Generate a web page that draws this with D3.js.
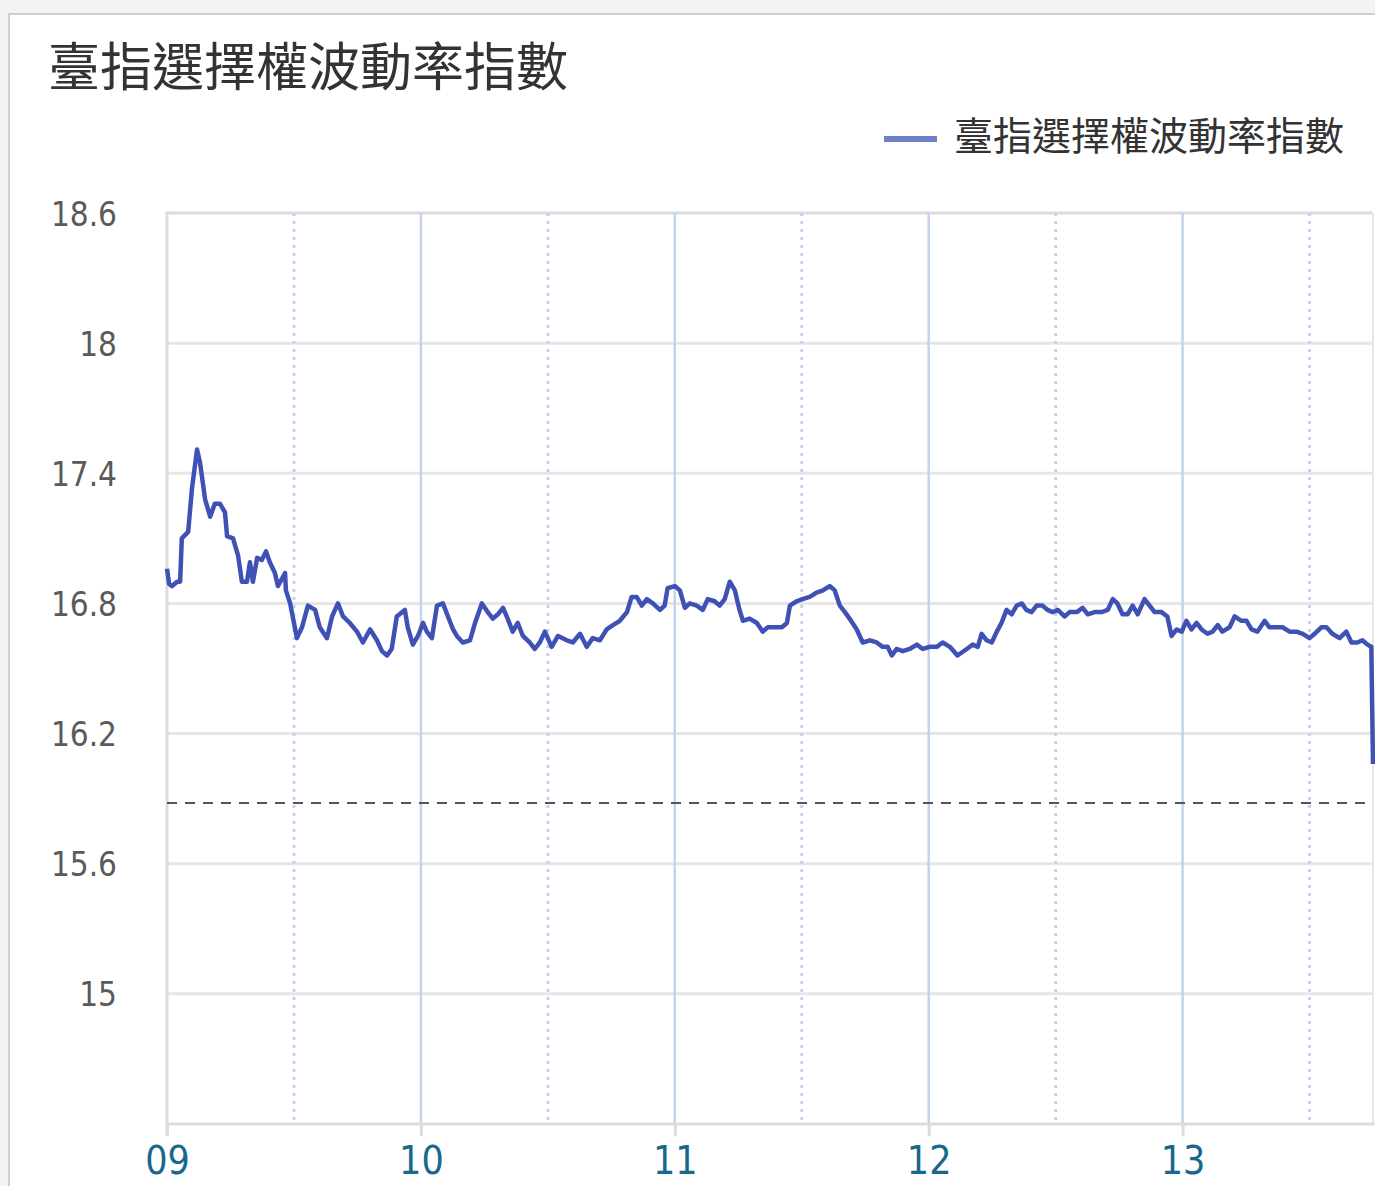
<!DOCTYPE html>
<html>
<head>
<meta charset="utf-8">
<script src="https://cdn.jsdelivr.net/npm/d3@7"></script>
<style>
  html, body { margin: 0; padding: 0; background: #f3f3f3; }
  svg { display: block; }
</style>
</head>
<body>
<script>
// 臺指選擇權波動率指數 - intraday, minutes after 09:00
var titleText = "臺指選擇權波動率指數";
var seriesName = "臺指選擇權波動率指數";

var minutes = [0, 0.5, 1.2, 2.4, 3.1, 3.5, 5.0, 5.9, 7.1, 7.8, 9.0, 10.2, 11.3, 12.5, 13.7, 14.2, 15.6, 16.8, 17.7, 18.9,
  19.6, 20.3, 21.3, 22.4, 23.4, 24.3, 25.5, 26.2, 27.9, 28.1, 29.1, 30.2, 30.7, 31.9, 33.3, 35.0, 36.1, 37.8, 39.0, 40.4,
  41.6, 43.2, 44.9, 46.3, 48.0, 49.6, 50.8, 52.0, 53.1, 54.3, 56.2, 56.9, 58.1, 59.3, 60.5, 61.4, 62.6, 63.8, 65.2, 66.4,
  67.6, 68.5, 69.9, 71.6, 72.8, 74.4, 75.8, 77.0, 78.2, 79.4, 80.5, 81.7, 82.9, 84.1, 85.7, 86.9, 88.1, 89.3, 90.9, 92.4,
  94.5, 95.9, 97.6, 99.2, 100.6, 102.3, 103.9, 105.4, 107.0, 108.7, 109.8, 111.0, 112.2, 113.4, 114.8, 116.5, 117.6, 118.3, 120.0, 121.2,
  122.4, 123.5, 125.2, 126.6, 127.8, 129.4, 130.6, 131.8, 133.0, 134.2, 135.3, 136.1, 137.7, 139.4, 140.8, 142.0, 143.6, 145.3, 146.5, 147.2,
  148.8, 150.2, 151.9, 153.5, 155.0, 156.6, 157.8, 159.0, 160.2, 161.3, 163.0, 164.4, 166.1, 167.7, 169.1, 170.3, 171.3, 172.4, 173.9, 175.5,
  177.2, 178.6, 180.2, 181.9, 183.3, 185.0, 186.8, 189.0, 190.4, 191.6, 192.5, 193.7, 194.9, 196.1, 197.2, 198.4, 199.6, 200.8, 202.0, 203.1,
  204.3, 205.5, 206.9, 208.1, 209.3, 210.5, 212.1, 213.3, 215.0, 216.4, 217.6, 219.2, 220.9, 222.3, 223.5, 224.6, 225.8, 227.0, 228.2, 229.4,
  231.0, 232.2, 233.4, 235.0, 236.4, 237.4, 238.6, 239.8, 240.9, 242.1, 243.3, 244.5, 245.9, 247.1, 248.3, 249.4, 251.1, 252.3, 253.9, 255.1,
  256.3, 257.7, 259.4, 260.5, 262.2, 263.6, 265.3, 266.9, 268.4, 270.0, 271.2, 272.8, 274.0, 275.4, 277.1, 278.7, 279.9, 281.3, 282.5, 283.7,
  284.6, 285.0];

var values = [16.96, 16.89, 16.88, 16.90, 16.90, 17.10, 17.13, 17.33, 17.51, 17.45, 17.28, 17.20, 17.26, 17.26, 17.22, 17.11, 17.10, 17.02, 16.90, 16.90,
  16.99, 16.90, 17.01, 17.00, 17.04, 16.99, 16.94, 16.88, 16.94, 16.86, 16.80, 16.69, 16.64, 16.69, 16.79, 16.77, 16.69, 16.64, 16.74, 16.80,
  16.74, 16.71, 16.67, 16.62, 16.68, 16.63, 16.58, 16.56, 16.59, 16.74, 16.77, 16.69, 16.61, 16.65, 16.71, 16.67, 16.64, 16.79, 16.80, 16.74,
  16.68, 16.65, 16.62, 16.63, 16.71, 16.80, 16.76, 16.73, 16.75, 16.78, 16.73, 16.67, 16.71, 16.65, 16.62, 16.59, 16.62, 16.67, 16.60, 16.65,
  16.63, 16.62, 16.66, 16.60, 16.64, 16.63, 16.68, 16.70, 16.72, 16.76, 16.83, 16.83, 16.79, 16.82, 16.80, 16.77, 16.79, 16.87, 16.88, 16.86,
  16.78, 16.80, 16.79, 16.77, 16.82, 16.81, 16.79, 16.82, 16.90, 16.86, 16.77, 16.72, 16.73, 16.71, 16.67, 16.69, 16.69, 16.69, 16.71, 16.79,
  16.81, 16.82, 16.83, 16.85, 16.86, 16.88, 16.86, 16.79, 16.76, 16.73, 16.68, 16.62, 16.63, 16.62, 16.60, 16.60, 16.56, 16.59, 16.58, 16.59,
  16.61, 16.59, 16.60, 16.60, 16.62, 16.60, 16.56, 16.59, 16.61, 16.60, 16.66, 16.63, 16.62, 16.67, 16.71, 16.77, 16.75, 16.79, 16.80, 16.77,
  16.76, 16.79, 16.79, 16.77, 16.76, 16.77, 16.74, 16.76, 16.76, 16.78, 16.75, 16.76, 16.76, 16.77, 16.82, 16.80, 16.75, 16.75, 16.79, 16.75,
  16.82, 16.79, 16.76, 16.76, 16.74, 16.65, 16.68, 16.67, 16.72, 16.68, 16.71, 16.68, 16.66, 16.67, 16.70, 16.67, 16.69, 16.74, 16.72, 16.72,
  16.68, 16.67, 16.72, 16.69, 16.69, 16.69, 16.67, 16.67, 16.66, 16.64, 16.66, 16.69, 16.69, 16.66, 16.64, 16.67, 16.62, 16.62, 16.63, 16.61,
  16.60, 16.06];

var yTicks = [15, 15.6, 16.2, 16.8, 17.4, 18, 18.6];
var yDomain = [14.4, 18.6];
var hourLabels = ["09", "10", "11", "12", "13"];
var refLine = 15.88; // dashed reference (prior close)

var width = 1375, height = 1186;
var plot = {left: 167, top: 213, right: 1373, bottom: 1124};

var day = new Date(2020, 0, 2, 9, 0);
var start = day, end = d3.timeMinute.offset(day, 285);

var data = minutes.map(function(m, i) {
  return {t: new Date(day.getTime() + m * 60000), v: values[i]};
});

var x = d3.scaleTime().domain([start, end]).range([plot.left, plot.right]);
var y = d3.scaleLinear().domain(yDomain).range([plot.bottom, plot.top]);

var svg = d3.select("body").append("svg")
    .attr("width", width)
    .attr("height", height);

// panel
svg.append("rect")
    .attr("x", 9).attr("y", 14)
    .attr("width", width + 10).attr("height", height + 10)
    .style("fill", "#fff")
    .style("stroke", "#cfcfcf")
    .style("stroke-width", 2);

svg.append("text")
    .attr("x", 48).attr("y", 86)
    .style("font-family", "'Noto Sans CJK TC', 'Noto Sans CJK SC', sans-serif")
    .style("font-size", "52px")
    .style("fill", "#333")
    .text(titleText);

// legend
svg.append("line")
    .attr("x1", 884).attr("x2", 937)
    .attr("y1", 139).attr("y2", 139)
    .style("stroke", "#6f80c8")
    .style("stroke-width", 6);
svg.append("text")
    .attr("x", 954).attr("y", 150)
    .style("font-family", "'Noto Sans CJK TC', 'Noto Sans CJK SC', sans-serif")
    .style("font-size", "39px")
    .style("fill", "#333")
    .text(seriesName);

// horizontal grid
svg.append("g").selectAll("line")
    .data(yTicks)
    .enter().append("line")
    .attr("x1", plot.left).attr("x2", plot.right)
    .attr("y1", function(d) { return y(d); })
    .attr("y2", function(d) { return y(d); })
    .style("stroke", function(d) { return d === 18.6 ? "#dcdcdc" : "#e6e6e6"; })
    .style("stroke-width", 3);

// vertical grid: hours solid, half hours dotted
var hours = d3.range(1, 5).map(function(h) { return d3.timeHour.offset(day, h); });
var halves = d3.range(0, 5).map(function(h) { return d3.timeMinute.offset(day, h * 60 + 30); });

svg.append("g").selectAll("line")
    .data(hours)
    .enter().append("line")
    .attr("x1", function(d) { return x(d); })
    .attr("x2", function(d) { return x(d); })
    .attr("y1", plot.top).attr("y2", plot.bottom)
    .style("stroke", "#c3d3ef")
    .style("stroke-width", 2.5);

svg.append("g").selectAll("line")
    .data(halves)
    .enter().append("line")
    .attr("x1", function(d) { return x(d); })
    .attr("x2", function(d) { return x(d); })
    .attr("y1", plot.top).attr("y2", plot.bottom)
    .style("stroke", "#c3d3ef")
    .style("stroke-width", 3)
    .style("stroke-dasharray", "3,5");

// frame
svg.append("line")
    .attr("x1", plot.left).attr("x2", plot.left)
    .attr("y1", plot.top - 1.5).attr("y2", plot.bottom + 12)
    .style("stroke", "#dcdcdc").style("stroke-width", 3);
svg.append("line")
    .attr("x1", plot.right).attr("x2", plot.right)
    .attr("y1", plot.top).attr("y2", plot.bottom)
    .style("stroke", "#e6e6e6").style("stroke-width", 2);

// x axis
var xAxis = d3.axisBottom(x)
    .tickValues([start].concat(hours))
    .tickSize(12)
    .tickFormat(function(d, i) { return hourLabels[i]; });

var gx = svg.append("g")
    .attr("transform", "translate(0," + plot.bottom + ")")
    .call(xAxis);
gx.select(".domain")
    .attr("d", "M" + plot.left + ",0H" + (plot.right + 2))
    .style("stroke", "#dcdcdc").style("stroke-width", 3);
gx.selectAll(".tick line").style("stroke", "#dcdcdc").style("stroke-width", 3);
gx.selectAll(".tick text")
    .attr("y", 50).attr("dy", 0)
    .style("font-family", "'DejaVu Sans Condensed', 'DejaVu Sans', sans-serif")
    .style("font-stretch", "condensed")
    .style("font-size", "39px")
    .style("fill", "#17688c");

// y axis labels
var yAxis = d3.axisLeft(y).tickValues(yTicks).tickSize(0)
    .tickFormat(function(d) { return String(d); });
var gy = svg.append("g")
    .attr("transform", "translate(117,0)")
    .call(yAxis);
gy.select(".domain").remove();
gy.selectAll(".tick text")
    .attr("x", 0).attr("dy", 12)
    .style("font-family", "'DejaVu Sans Condensed', 'DejaVu Sans', sans-serif")
    .style("font-stretch", "condensed")
    .style("font-size", "33px")
    .style("fill", "#5a5a5a");

// reference dashed line
svg.append("line")
    .attr("x1", plot.left).attr("x2", plot.right)
    .attr("y1", y(refLine)).attr("y2", y(refLine))
    .style("stroke", "#555")
    .style("stroke-width", 2)
    .style("stroke-dasharray", "10,8");

// series
var line = d3.line()
    .x(function(d) { return x(d.t); })
    .y(function(d) { return y(d.v); });

svg.append("path")
    .datum(data)
    .attr("d", line)
    .style("fill", "none")
    .style("stroke", "#3f51b5")
    .style("stroke-width", 4.5)
    .style("stroke-linejoin", "round");
</script>
</body>
</html>
